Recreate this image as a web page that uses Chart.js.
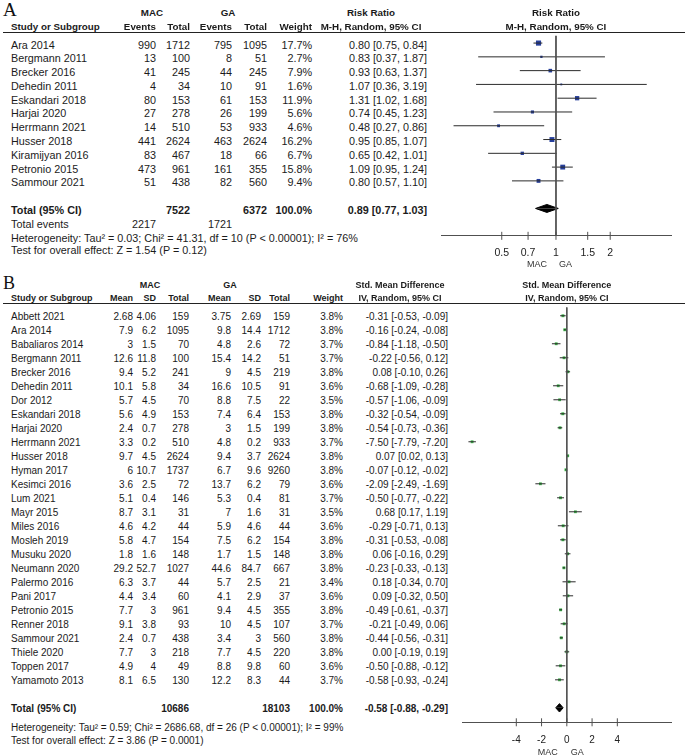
<!DOCTYPE html>
<html>
<head>
<meta charset="utf-8">
<title>Forest plots MAC vs GA</title>
<script src="https://cdn.jsdelivr.net/npm/chart.js@4.4.1/dist/chart.umd.min.js"></script>
<style>
html,body{margin:0;padding:0;background:#fff;}
#page{position:relative;width:685px;height:756px;overflow:hidden;background:#fff;font-family:"Liberation Sans",Arial,Helvetica,sans-serif;color:#1b1b1b;}
.t{position:absolute;white-space:nowrap;line-height:14px;height:14px;}
.b{font-weight:bold;}
.rule{position:absolute;height:1px;background:#222;}
canvas{position:absolute;}
</style>
</head>
<body>
<div id="page">
  <canvas id="chartA"></canvas>
  <canvas id="chartB"></canvas>
</div>
<script>
// ---------------- Panel A : Risk Ratio ----------------
const studiesA = ['Ara 2014','Bergmann 2011','Brecker 2016','Dehedin 2011','Eskandari 2018','Harjai 2020','Herrmann 2021','Husser 2018','Kiramijyan 2016','Petronio 2015','Sammour 2021'];
const macEventsA = [990,13,41,4,80,27,14,441,83,473,51];
const macTotalA  = [1712,100,245,34,153,278,510,2624,467,961,438];
const gaEventsA  = [795,8,44,10,61,26,53,463,18,161,82];
const gaTotalA   = [1095,51,245,91,153,199,933,2624,66,355,560];
const weightA    = [17.7,2.7,7.9,1.6,11.9,5.6,4.6,16.2,6.7,15.8,9.4];
const rrA        = [0.80,0.83,0.93,1.07,1.31,0.74,0.48,0.95,0.65,1.09,0.80];
const loA        = [0.75,0.37,0.63,0.36,1.02,0.45,0.27,0.85,0.42,0.95,0.57];
const hiA        = [0.84,1.87,1.37,3.19,1.68,1.23,0.86,1.07,1.01,1.24,1.10];
const totalRRA   = [0.89,0.77,1.03];       // estimate, lower, upper
const totalsA    = [7522,6372];            // MAC total, GA total
const totalEventsA = [2217,1721];
const tickValsA  = [0.5,0.7,1,1.5,2];
const tickLabelsA = ['0.5','0.7','1','1.5','2'];
const hetA  = 'Heterogeneity: Tau\u00b2 = 0.03; Chi\u00b2 = 41.31, df = 10 (P < 0.00001); I\u00b2 = 76%';
const testA = 'Test for overall effect: Z = 1.54 (P = 0.12)';

// ---------------- Panel B : Std. Mean Difference ----------------
const studiesB = ['Abbett 2021','Ara 2014','Babaliaros 2014','Bergmann 2011','Brecker 2016','Dehedin 2011','Dor 2012','Eskandari 2018','Harjai 2020','Herrmann 2021','Husser 2018','Hyman 2017','Kesimci 2016','Lum 2021','Mayr 2015','Miles 2016','Mosleh 2019','Musuku 2020','Neumann 2020','Palermo 2016','Pani 2017','Petronio 2015','Renner 2018','Sammour 2021','Thiele 2020','Toppen 2017','Yamamoto 2013'];
const macMeanB = [2.68,7.9,3,12.6,9.4,10.1,5.7,5.6,2.4,3.3,9.7,6,3.6,5.1,8.7,4.6,5.8,1.8,29.2,6.3,4.4,7.7,9.1,2.4,7.7,4.9,8.1];
const macSDB   = [4.06,6.2,1.5,11.8,5.2,5.8,4.5,4.9,0.7,0.2,4.5,10.7,2.5,0.4,3.1,4.2,4.7,1.6,52.7,3.7,3.4,3,3.8,0.7,3,4,6.5];
const macTotB  = [159,1095,70,100,241,34,70,153,278,510,2624,1737,72,146,31,44,154,148,1027,44,60,961,93,438,218,49,130];
const gaMeanB  = [3.75,9.8,4.8,15.4,9,16.6,8.8,7.4,3,4.8,9.4,6.7,13.7,5.3,7,5.9,7.5,1.7,44.6,5.7,4.1,9.4,10,3.4,7.7,8.8,12.2];
const gaSDB    = [2.69,14.4,2.6,14.2,4.5,10.5,7.5,6.4,1.5,0.2,3.7,9.6,6.2,0.4,1.6,4.6,6.2,1.5,84.7,2.5,2.9,4.5,4.5,3,4.5,9.8,8.3];
const gaTotB   = [159,1712,72,51,219,91,22,153,199,933,2624,9260,79,81,31,44,154,148,667,21,37,355,107,560,220,60,44];
const weightB  = [3.8,3.8,3.7,3.7,3.8,3.6,3.5,3.8,3.8,3.7,3.8,3.8,3.6,3.7,3.5,3.6,3.8,3.8,3.8,3.4,3.6,3.8,3.7,3.8,3.8,3.6,3.7];
const smdB     = [-0.31,-0.16,-0.84,-0.22,0.08,-0.68,-0.57,-0.32,-0.54,-7.50,0.07,-0.07,-2.09,-0.50,0.68,-0.29,-0.31,0.06,-0.23,0.18,0.09,-0.49,-0.21,-0.44,0.00,-0.50,-0.58];
const loB      = [-0.53,-0.24,-1.18,-0.56,-0.10,-1.09,-1.06,-0.54,-0.73,-7.79,0.02,-0.12,-2.49,-0.77,0.17,-0.71,-0.53,-0.16,-0.33,-0.34,-0.32,-0.61,-0.49,-0.56,-0.19,-0.88,-0.93];
const hiB      = [-0.09,-0.08,-0.50,0.12,0.26,-0.28,-0.09,-0.09,-0.36,-7.20,0.13,-0.02,-1.69,-0.22,1.19,0.13,-0.08,0.29,-0.13,0.70,0.50,-0.37,0.06,-0.31,0.19,-0.12,-0.24];
const totalSMDB = [-0.58,-0.88,-0.29];
const totalsB   = [10686,18103];
const tickValsB = [-4,-2,0,2,4];
const tickLabelsB = ['-4','-2','0','2','4'];
const hetB  = 'Heterogeneity: Tau\u00b2 = 0.59; Chi\u00b2 = 2686.68, df = 26 (P < 0.00001); I\u00b2 = 99%';
const testB = 'Test for overall effect: Z = 3.86 (P = 0.0001)';

// ---------------- layout ----------------
const FONT = '"Liberation Sans", Arial, Helvetica, sans-serif';
const SERIF = '"Liberation Serif", "Times New Roman", serif';
const ROW_H = 14.3;
const TXT_DY = 1.5;
const PANEL_A = {left:436, top:0, width:240, height:276, row0:39.5, rule:32, axis:239.5, xMin:0.23, xMax:4.35, xType:'logarithmic', nullValue:1, tickFont:10.5, tickPad:10.5};
const PANEL_B = {left:457, top:276, width:219, height:480, row0:311.5, rule:303, axis:726.7, xMin:-8.3, xMax:8.25, xType:'linear', nullValue:0, tickFont:10, tickPad:11.5};

function forest(id, P, est, lo, hi, weight, total, ticks, tickLabels, color, sq0, sqK, diaH) {
  const cv = document.getElementById(id);
  cv.width = P.width; cv.height = P.height;
  Object.assign(cv.style, {left:P.left+'px', top:P.top+'px', width:P.width+'px', height:P.height+'px'});
  const yMin = -(P.row0 - P.top) / ROW_H;
  const yMax = yMin + P.height / ROW_H;
  const ruleRow = (P.rule - P.row0) / ROW_H;
  const axisRow = (P.axis - P.row0) / ROW_H;
  const totRow = est.length + 1;
  const ds = [];
  // line of no effect
  ds.push({data:[{x:P.nullValue,y:ruleRow},{x:P.nullValue,y:axisRow}], borderColor:'#505050', borderWidth:1, pointRadius:0});
  // confidence intervals
  est.forEach((e,i) => ds.push({data:[{x:lo[i],y:i},{x:hi[i],y:i}], borderColor:'#2b2b2b', borderWidth:1, pointRadius:0}));
  // weighted squares
  ds.push({data:est.map((e,i)=>({x:e,y:i})), showLine:false, pointStyle:'rect',
           pointRadius:weight.map(w => (sq0 + sqK*Math.sqrt(w)) / Math.SQRT2),
           pointBackgroundColor:color, pointBorderColor:color, pointBorderWidth:0});
  // pooled diamond (upper and lower halves)
  [-1,1].forEach(s => ds.push({data:[{x:total[1],y:totRow},{x:total[0],y:totRow+s*diaH},{x:total[2],y:totRow}],
           borderColor:'#000', borderWidth:1, backgroundColor:'#000', fill:{value:totRow}, pointRadius:0}));
  // crossing tick marks on the axis
  ds.push({data:ticks.map(v=>({x:v,y:axisRow})), showLine:false, pointStyle:'line', pointRotation:90,
           pointRadius:4, pointBorderColor:'#505050', pointBorderWidth:1});
  return new Chart(cv, {
    type:'line',
    data:{datasets:ds},
    options:{
      responsive:false, animation:false, events:[],
      layout:{padding:0},
      plugins:{legend:{display:false}, tooltip:{enabled:false}},
      scales:{
        x:{type:P.xType, min:P.xMin, max:P.xMax, position:{y:axisRow},
           afterFit(s){ s.height = 0; },
           afterBuildTicks(s){ s.ticks = ticks.map(v => ({value:v})); },
           grid:{display:true, drawOnChartArea:false, drawTicks:false},
           border:{display:true, color:'#505050', width:1},
           ticks:{autoSkip:false, maxRotation:0, minRotation:0, padding:P.tickPad, color:'#222',
                  font:{family:FONT, size:P.tickFont}, callback:(v,i) => tickLabels[i]}},
        y:{type:'linear', display:false, reverse:true, min:yMin, max:yMax}
      }
    }
  });
}

const page = document.getElementById('page');
function T(s, x, yc, al, size, bold, fam, color) {
  const d = document.createElement('div');
  d.className = 't' + (bold ? ' b' : '');
  d.textContent = String(s);
  d.style.fontSize = size + 'px';
  if (fam) d.style.fontFamily = fam;
  if (color) d.style.color = color;
  d.style.top = (yc - 7) + 'px';
  if (al === 'left') d.style.left = x + 'px';
  else if (al === 'right') d.style.right = (685 - x) + 'px';
  else { d.style.left = x + 'px'; d.style.transform = 'translateX(-50%)'; }
  page.appendChild(d);
}
function rule(y) {
  const d = document.createElement('div');
  d.className = 'rule';
  Object.assign(d.style, {left:'3px', width:'682px', top:y+'px'});
  page.appendChild(d);
}
const ci = (e,l,h) => `${e.toFixed(2)} [${l.toFixed(2)}, ${h.toFixed(2)}]`;

// ---------- Panel A ----------
const chartA = forest('chartA', PANEL_A, rrA, loA, hiA, weightA, totalRRA, tickValsA, tickLabelsA, '#263f9c', 0.5, 1.1, 0.29);
const yA = i => PANEL_A.top + chartA.scales.y.getPixelForValue(i) + TXT_DY;
const nullA = PANEL_A.left + chartA.scales.x.getPixelForValue(PANEL_A.nullValue);
const FA = 10.8, HA = 9.8;
T('A', 3, 10, 'left', 19, false, SERIF, '#111');
T('MAC', 152, 13, 'center', HA, true); T('GA', 228, 13, 'center', HA, true);
T('Risk Ratio', 371, 13, 'center', HA, true); T('Risk Ratio', nullA, 13, 'center', HA, true);
T('Study or Subgroup', 11, 27, 'left', HA, true);
T('Events', 156, 27, 'right', HA, true); T('Total', 190, 27, 'right', HA, true);
T('Events', 232, 27, 'right', HA, true); T('Total', 267, 27, 'right', HA, true);
T('Weight', 312, 27, 'right', HA, true);
T('M-H, Random, 95% CI', 371, 27, 'center', HA, true); T('M-H, Random, 95% CI', nullA, 27, 'center', HA, true);
rule(PANEL_A.rule);
studiesA.forEach((s,i) => {
  const y = yA(i);
  T(s, 11, y, 'left', FA);
  T(macEventsA[i], 156, y, 'right', FA); T(macTotalA[i], 190, y, 'right', FA);
  T(gaEventsA[i], 232, y, 'right', FA); T(gaTotalA[i], 267, y, 'right', FA);
  T(weightA[i].toFixed(1)+'%', 312, y, 'right', FA);
  T(ci(rrA[i], loA[i], hiA[i]), 427, y, 'right', FA);
});
{
  const y = yA(studiesA.length + 1);
  T('Total (95% CI)', 11, y, 'left', FA, true);
  T(totalsA[0], 190, y, 'right', FA, true); T(totalsA[1], 267, y, 'right', FA, true);
  T('100.0%', 312, y, 'right', FA, true);
  T(ci(...totalRRA), 427, y, 'right', FA, true);
  const y2 = yA(studiesA.length + 2);
  T('Total events', 11, y2, 'left', FA);
  T(totalEventsA[0], 156, y2, 'right', FA); T(totalEventsA[1], 232, y2, 'right', FA);
  T(hetA, 11, 238, 'left', 10.8);
  T(testA, 11, 249.5, 'left', 10.8);
  T('MAC', nullA - 9, 263.5, 'right', 9, false, null, '#333');
  T('GA', nullA + 3, 263.5, 'left', 9, false, null, '#333');
}

// ---------- Panel B ----------
const chartB = forest('chartB', PANEL_B, smdB, loB, hiB, weightB, totalSMDB, tickValsB, tickLabelsB, '#3db54a', 0.9, 1.0, 0.3);
const yB = i => PANEL_B.top + chartB.scales.y.getPixelForValue(i) + TXT_DY;
const nullB = PANEL_B.left + chartB.scales.x.getPixelForValue(PANEL_B.nullValue);
const FB = 10, HB = 9;
const colB = {mMean:133, mSD:156, mTot:189, gMean:231, gSD:261, gTot:290, w:343, ci:448, ciHead:400};
T('B', 3, 283, 'left', 18, false, SERIF, '#111');
T('MAC', 150, 285, 'center', HB, true); T('GA', 230, 285, 'center', HB, true);
T('Std. Mean Difference', colB.ciHead, 285, 'center', HB, true); T('Std. Mean Difference', nullB, 285, 'center', HB, true);
T('Study or Subgroup', 11, 298, 'left', HB, true);
T('Mean', colB.mMean, 298, 'right', HB, true); T('SD', colB.mSD, 298, 'right', HB, true); T('Total', colB.mTot, 298, 'right', HB, true);
T('Mean', colB.gMean, 298, 'right', HB, true); T('SD', colB.gSD, 298, 'right', HB, true); T('Total', colB.gTot, 298, 'right', HB, true);
T('Weight', colB.w, 298, 'right', HB, true);
T('IV, Random, 95% CI', colB.ciHead, 298, 'center', HB, true); T('IV, Random, 95% CI', nullB, 298, 'center', HB, true);
rule(PANEL_B.rule);
studiesB.forEach((s,i) => {
  const y = yB(i);
  T(s, 11, y, 'left', FB);
  T(macMeanB[i], colB.mMean, y, 'right', FB); T(macSDB[i], colB.mSD, y, 'right', FB); T(macTotB[i], colB.mTot, y, 'right', FB);
  T(gaMeanB[i], colB.gMean, y, 'right', FB); T(gaSDB[i], colB.gSD, y, 'right', FB); T(gaTotB[i], colB.gTot, y, 'right', FB);
  T(weightB[i].toFixed(1)+'%', colB.w, y, 'right', FB);
  T(ci(smdB[i], loB[i], hiB[i]), colB.ci, y, 'right', FB);
});
{
  const y = yB(studiesB.length + 1);
  T('Total (95% CI)', 11, y, 'left', FB, true);
  T(totalsB[0], colB.mTot, y, 'right', FB, true); T(totalsB[1], colB.gTot, y, 'right', FB, true);
  T('100.0%', colB.w, y, 'right', FB, true);
  T(ci(...totalSMDB), colB.ci, y, 'right', FB, true);
  T(hetB, 11, 727.5, 'left', 10);
  T(testB, 11, 741, 'left', 10);
  T('MAC', nullB - 9, 751.5, 'right', 9, false, null, '#333');
  T('GA', nullB + 4, 751.5, 'left', 9, false, null, '#333');
}
</script>
</body>
</html>
